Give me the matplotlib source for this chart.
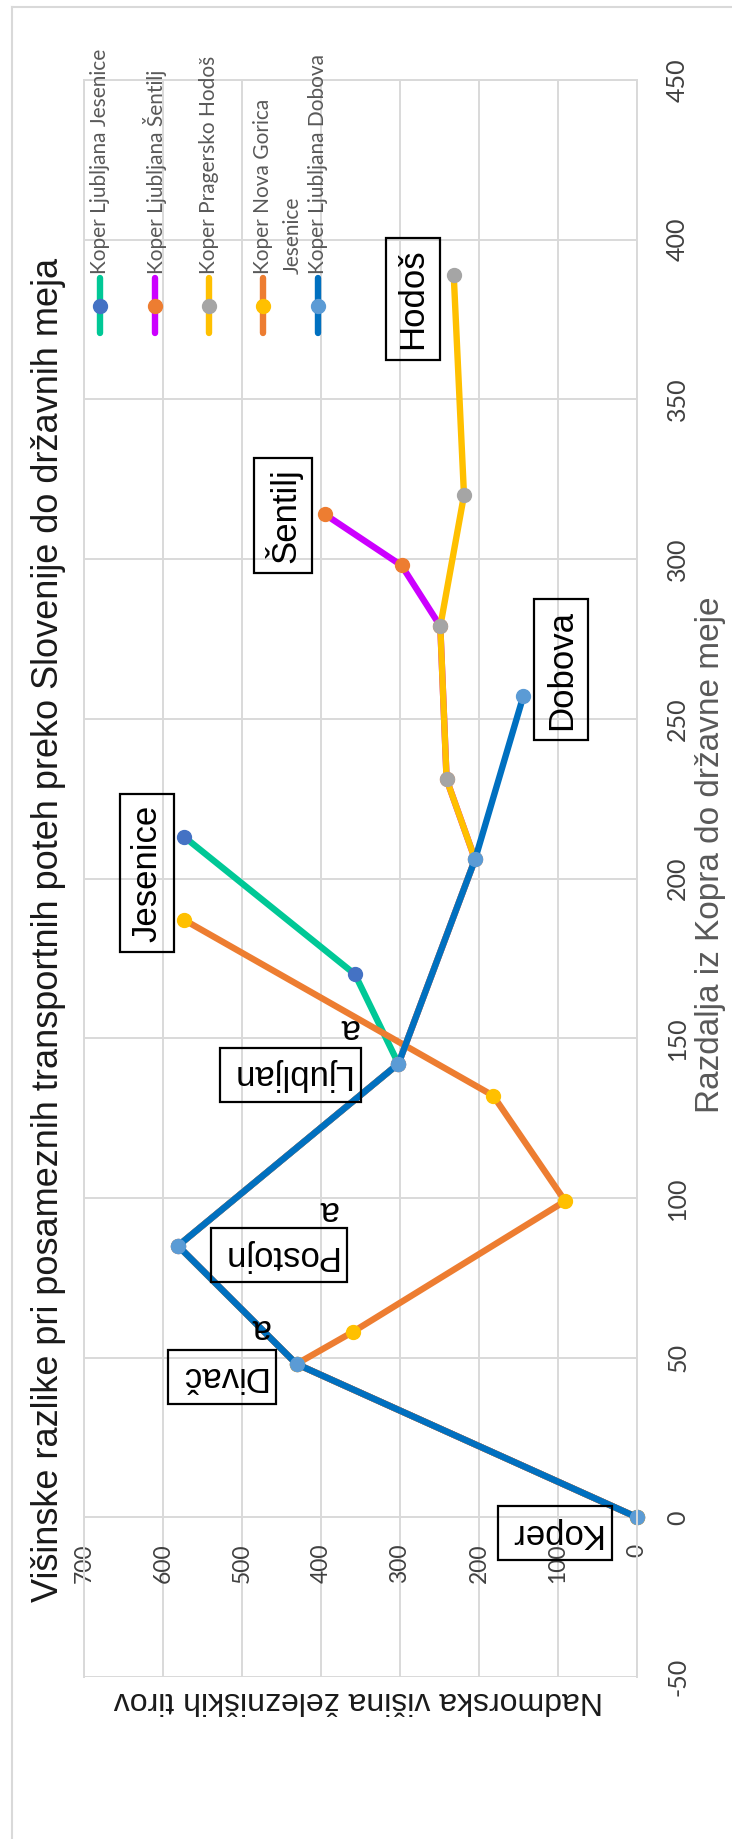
import matplotlib
matplotlib.use("Agg")
import matplotlib.pyplot as plt
from matplotlib.lines import Line2D

plt.rcParams['font.family'] = ['Liberation Sans', 'DejaVu Sans']
plt.rcParams['axes.unicode_minus'] = False

W, H = 732, 1839

# podatki: razdalja od Kopra (km) in nadmorska visina (m)
imena = ["Koper Ljubljana Jesenice", "Koper Ljubljana Šentilj", "Koper Pragersko Hodoš",
         "Koper Nova Gorica\nJesenice", "Koper Ljubljana Dobova"]

jes_razdalja = [0, 48, 85, 142, 170, 213]
jes_visina = [0, 431, 581, 302, 357, 573]

sen_razdalja = [0, 48, 85, 142, 206, 231, 279, 298, 314]
sen_visina = [0, 431, 581, 302, 205, 241, 249, 298, 395]

hod_razdalja = [0, 48, 85, 142, 206, 231, 279, 320, 389]
hod_visina = [0, 431, 581, 302, 205, 241, 249, 219, 232]

ng_razdalja = [0, 48, 58, 99, 132, 187]
ng_visina = [0, 431, 360, 91, 182, 573]

dob_razdalja = [0, 48, 85, 142, 206, 257]
dob_visina = [0, 431, 581, 302, 205, 144]

razdalje = [jes_razdalja, sen_razdalja, hod_razdalja, ng_razdalja, dob_razdalja]
visine = [jes_visina, sen_visina, hod_visina, ng_visina, dob_visina]

barve_crt = ['#00c896', '#cc00ff', '#ffc000', '#ed7d31', '#0070c0']
barve_tock = ['#4472c4', '#ed7d31', '#a5a5a5', '#ffc000', '#5b9bd5']

# oznake krajev: (ime, visina, razdalja, zasuk)
kraji = [("Koper", 104, -5, 180), ("Divač", 525, 44, 180), ("a", 477, 59, 180),
         ("Postojn", 453, 82, 180), ("a", 391, 96, 180),
         ("Ljubljan", 439, 138.5, 180), ("a", 365, 153, 180),
         ("Jesenice", 620, 201.7, 90), ("Šentilj", 448, 313.6, 90),
         ("Dobova", 96, 265.4, 90), ("Hodoš", 284, 381.4, 90)]


def fx(x):
    return x / W


def fy(y):
    return 1 - y / H


fig = plt.figure(figsize=(W / 100, H / 100), dpi=100)
ax = fig.add_axes([fx(84), fy(1677), (637 - 84) / W, (1677 - 80) / H])

for raz, vis, lc, mc in zip(razdalje, visine, barve_crt, barve_tock):
    ax.plot(vis, raz, color=lc, lw=4.6, marker='o', ms=10, mfc=mc, mec=mc,
            clip_on=False, solid_joinstyle='round', solid_capstyle='round')

ax.set_xlim(700, 0)
ax.set_ylim(-50, 450)
ax.set_xticks(range(0, 701, 100))
ax.set_yticks(range(-50, 451, 50))
ax.grid(True, color='#d9d9d9', lw=1.4)
ax.set_axisbelow(True)

ax.yaxis.tick_right()
ax.spines['bottom'].set_position(('data', 0))
ax.spines['bottom'].set_visible(False)
for s in ['top', 'left', 'right']:
    ax.spines[s].set_color('#d9d9d9')
    ax.spines[s].set_linewidth(1.4)

ax.tick_params(axis='x', length=0, pad=19, labelsize=16.5, labelcolor='#404040')
ax.tick_params(axis='y', length=0, pad=21, labelsize=18, labelcolor='#404040')
for lab in ax.get_xticklabels():
    lab.set_rotation(90)
    lab.set_family(['Lato', 'DejaVu Sans'])
for lab in ax.get_yticklabels():
    lab.set_rotation(90)
    lab.set_va('center')
    lab.set_family(['Lato', 'DejaVu Sans'])

for ime, vis, raz, rot in kraji:
    if ime == "a":
        ax.text(vis, raz, ime, rotation=rot, ha='center', va='center', fontsize=25)
    else:
        ax.text(vis, raz, ime, rotation=rot, ha='center', va='center', fontsize=25,
                bbox=dict(boxstyle='square,pad=0.3', fc='none', ec='black', lw=1.6))

# naslov in oznake osi
fig.text(fx(49), fy(930),
         "Višinske razlike pri posameznih transportnih poteh preko Slovenije do državnih meja",
         rotation=90, ha='center', va='center', fontsize=26, color='#1a1a1a')
fig.text(fx(711), fy(855), "Razdalja iz Kopra do državne meje", rotation=90,
         ha='center', va='center', fontsize=24, color='#595959')
fig.text(fx(358), fy(1700), "Nadmorska višina železniških tirov", rotation=180,
         ha='center', va='center', fontsize=23, color='#1a1a1a')

# legenda
leg_x = [100, 155, 209, 263, 318]
for xx, ime, lc, mc in zip(leg_x, imena, barve_crt, barve_tock):
    fig.add_artist(Line2D([fx(xx)] * 3, [fy(278), fy(306), fy(333)], transform=fig.transFigure,
                          color=lc, lw=4.6, solid_capstyle='round', marker='o', ms=10,
                          mfc=mc, mec=mc, markevery=[1]))
    vrstice = ime.split("\n")
    for i, v in enumerate(vrstice):
        fig.text(fx(xx + 30 * i), fy(274), v, rotation=90, ha='center', va='bottom',
                 fontsize=15, color='#595959', family=['Lato', 'DejaVu Sans'])

# okvir grafa
fig.add_artist(Line2D([fx(12), fx(12)], [0, fy(7)], transform=fig.transFigure, color='#d9d9d9', lw=1.5))
fig.add_artist(Line2D([fx(12), 1], [fy(7), fy(7)], transform=fig.transFigure, color='#d9d9d9', lw=1.5))

fig.savefig("out.png", dpi=100, facecolor='white')
